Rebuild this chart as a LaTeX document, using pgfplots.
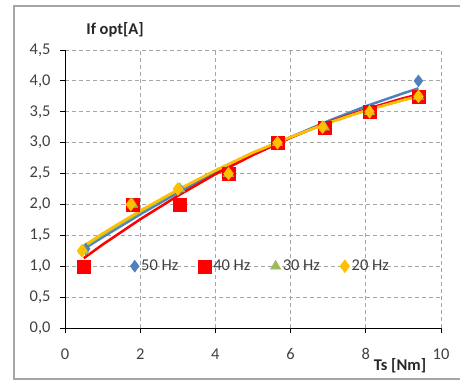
\documentclass[border=0pt]{standalone}
\usepackage{fontspec}
\setmainfont{Carlito}
\usepackage{pgfplots}
\pgfplotsset{compat=1.18}
\definecolor{cblue}{HTML}{4F81BD}
\definecolor{cred}{HTML}{FF0000}
\definecolor{cgreen}{HTML}{9BBB59}
\definecolor{cyellow}{HTML}{FFC000}
\definecolor{ctext}{HTML}{404040}
\definecolor{cgrid}{HTML}{A6A6A6}
\begin{document}
\begin{tikzpicture}
\path[use as bounding box] (-65bp,-53bp) rectangle (395bp,328bp);
\begin{axis}[
  scale only axis, width=376bp, height=278bp,
  at={(0,0)}, anchor=south west,
  xmin=0, xmax=10, ymin=0, ymax=4.5,
  axis lines=left, axis line style={-, black, line width=1bp},
  xtick={0,2,...,10}, ytick={0,0.5,...,4.5},
  tick align=outside, major tick length=5bp,
  tick style={black, line width=0.8bp},
  grid=major, grid style={cgrid, dash pattern=on 4bp off 3bp, line width=0.8bp},
  /pgf/number format/assume math mode=true,
  yticklabel style={/pgf/number format/.cd, fixed, fixed zerofill, precision=1, use comma, /tikz/.cd, xshift=-6bp},
  xticklabel style={yshift=-12bp},
  ticklabel style={font=\fontsize{16.5}{18}\selectfont, text=ctext},
  ylabel={\textbf{If opt[A]}},
  ylabel style={rotate=-90, at={(axis description cs:0.133,1.072)}, anchor=center, font=\fontsize{16.5}{18}\selectfont, text=ctext!60!black},
  xlabel={\textbf{Ts [Nm]}},
  xlabel style={at={(axis description cs:0.891,-0.137)}, anchor=center, font=\fontsize{16.5}{18}\selectfont, text=ctext!60!black},
  legend columns=4,
  legend style={draw=none, fill=none, at={(axis cs:5.2,1.0)}, anchor=center,
    font=\fontsize{16.5}{18}\selectfont, text=ctext, /tikz/every even column/.append style={column sep=18bp}},
  legend cell align=left,
  clip=false,
]
% trend lines
\addplot[cblue, line width=2.5bp, forget plot] coordinates {(0.5,1.28)(1,1.47)(2,1.84)(3,2.19)(4,2.51)(5,2.81)(6,3.09)(7,3.35)(8,3.59)(9,3.80)(9.4,3.88)};
\addplot[cred, line width=2.5bp, forget plot] coordinates {(0.5,1.13)(1,1.35)(2,1.76)(3,2.14)(4,2.49)(5,2.80)(6,3.08)(7,3.33)(8,3.54)(9,3.72)(9.4,3.78)};
\addplot[cgreen, line width=2.5bp, forget plot] coordinates {(0.5,1.31)(1,1.51)(2,1.88)(3,2.23)(4,2.55)(5,2.84)(6,3.09)(7,3.32)(8,3.52)(9,3.69)(9.4,3.75)};
\addplot[cyellow, line width=2.5bp, forget plot] coordinates {(0.5,1.33)(1,1.53)(2,1.90)(3,2.24)(4,2.55)(5,2.84)(6,3.09)(7,3.32)(8,3.52)(9,3.69)(9.4,3.75)};
% markers
\addplot[only marks, mark=diamond*, mark size=6bp, mark options={fill=cblue, draw=cblue}] coordinates {(0.55,1.28)(1.8,2.0)(3.05,2.25)(4.35,2.5)(5.65,3.0)(6.9,3.25)(8.1,3.5)(9.4,4.0)};
\addlegendentry{50 Hz}
\addplot[only marks, mark=square*, mark size=6.5bp, mark options={fill=cred, draw=cred}] coordinates {(0.5,1.0)(1.8,2.0)(3.05,2.0)(4.35,2.5)(5.65,3.0)(6.9,3.25)(8.1,3.5)(9.4,3.75)};
\addlegendentry{40 Hz}
\addplot[only marks, mark=triangle*, mark size=6bp, mark options={fill=cgreen, draw=cgreen}] coordinates {(0.5,1.25)(1.8,2.0)(3.05,2.25)(4.35,2.5)(5.65,3.0)(6.9,3.25)(8.1,3.5)(9.4,3.75)};
\addlegendentry{30 Hz}
\addplot[only marks, mark=diamond*, mark size=6.5bp, mark options={fill=cyellow, draw=cyellow}] coordinates {(0.45,1.25)(1.75,2.0)(3.0,2.25)(4.35,2.5)(5.65,3.0)(6.85,3.25)(8.1,3.5)(9.4,3.75)};
\addlegendentry{20 Hz}
\end{axis}
\draw[gray!70, line width=1.5bp] (-51bp,-51bp) rectangle (420bp,322bp);
\end{tikzpicture}
\end{document}
